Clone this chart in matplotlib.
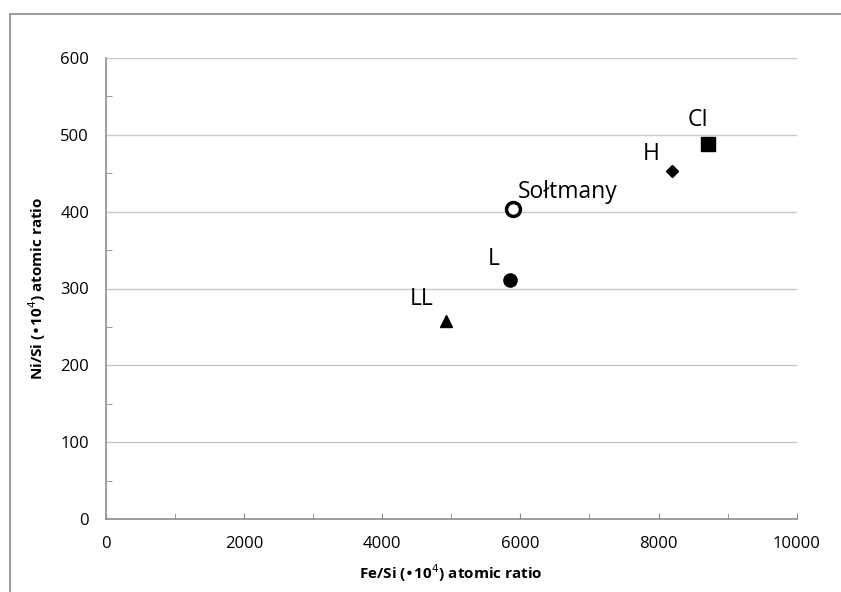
import matplotlib
matplotlib.use("Agg")
import matplotlib.pyplot as plt
from matplotlib.patches import Rectangle
from matplotlib.ticker import MultipleLocator

plt.rcParams['font.family'] = ['Open Sans', 'DejaVu Sans']

names = ["LL", "L", "Sołtmany", "H", "CI"]
fe_si = [4925, 5851, 5890, 8195, 8721]
ni_si = [258, 311, 403, 453, 488]
markers = ["^", "o", "o", "D", "s"]
sizes = [8, 9.5, 10, 6.5, 10]
label_offsets = [(-26, 11.5), (-16, 11), (3.6, 8.4), (-21, 8), (-15, 13)]

fig = plt.figure(figsize=(8.41, 5.92), dpi=100)
fig.patches.append(Rectangle((10/841, -0.1), 1.2, (592-14)/592 + 0.1, transform=fig.transFigure,
                             fill=False, edgecolor='#8c8c8c', linewidth=1.2))
ax = fig.add_axes([105.7/841, 73/592, 691/841, 461/592])

for n, x, y, m, s in zip(names, fe_si, ni_si, markers, sizes):
    if n == "Sołtmany":
        ax.plot(x, y, marker=m, markersize=s, markerfacecolor='white', markeredgecolor='black',
                markeredgewidth=2.5, linestyle='none', zorder=3)
    else:
        ax.plot(x, y, marker=m, markersize=s, color='black', linestyle='none', zorder=3)

for n, x, y, off in zip(names, fe_si, ni_si, label_offsets):
    ax.annotate(n, (x, y), xytext=off, textcoords='offset points', fontsize=16.5, color='black')

ax.set_xlim(0, 10000)
ax.set_ylim(0, 600)
ax.xaxis.set_major_locator(MultipleLocator(2000))
ax.xaxis.set_minor_locator(MultipleLocator(1000))
ax.yaxis.set_major_locator(MultipleLocator(100))
ax.yaxis.set_minor_locator(MultipleLocator(50))
ax.grid(axis='y', which='major', color='#c8c8c8', linewidth=1)
ax.set_axisbelow(True)
for sp in ['top', 'right']:
    ax.spines[sp].set_visible(False)
for sp in ['left', 'bottom']:
    ax.spines[sp].set_color('#8c8c8c')
    ax.spines[sp].set_linewidth(1.2)
ax.tick_params(axis='x', which='both', direction='in', length=4, color='#8c8c8c', labelsize=12, pad=12)
ax.tick_params(axis='y', which='major', length=0, labelsize=12, pad=12)
ax.tick_params(axis='y', which='minor', direction='in', length=4, color='#8c8c8c')

ax.set_xlabel("Fe/Si (\u202210$^4$) atomic ratio", fontsize=11, fontweight='bold', labelpad=8)
ax.set_ylabel("Ni/Si (\u202210$^4$) atomic ratio", fontsize=11, fontweight='bold', labelpad=9)

fig.savefig("out.png", dpi=100)
